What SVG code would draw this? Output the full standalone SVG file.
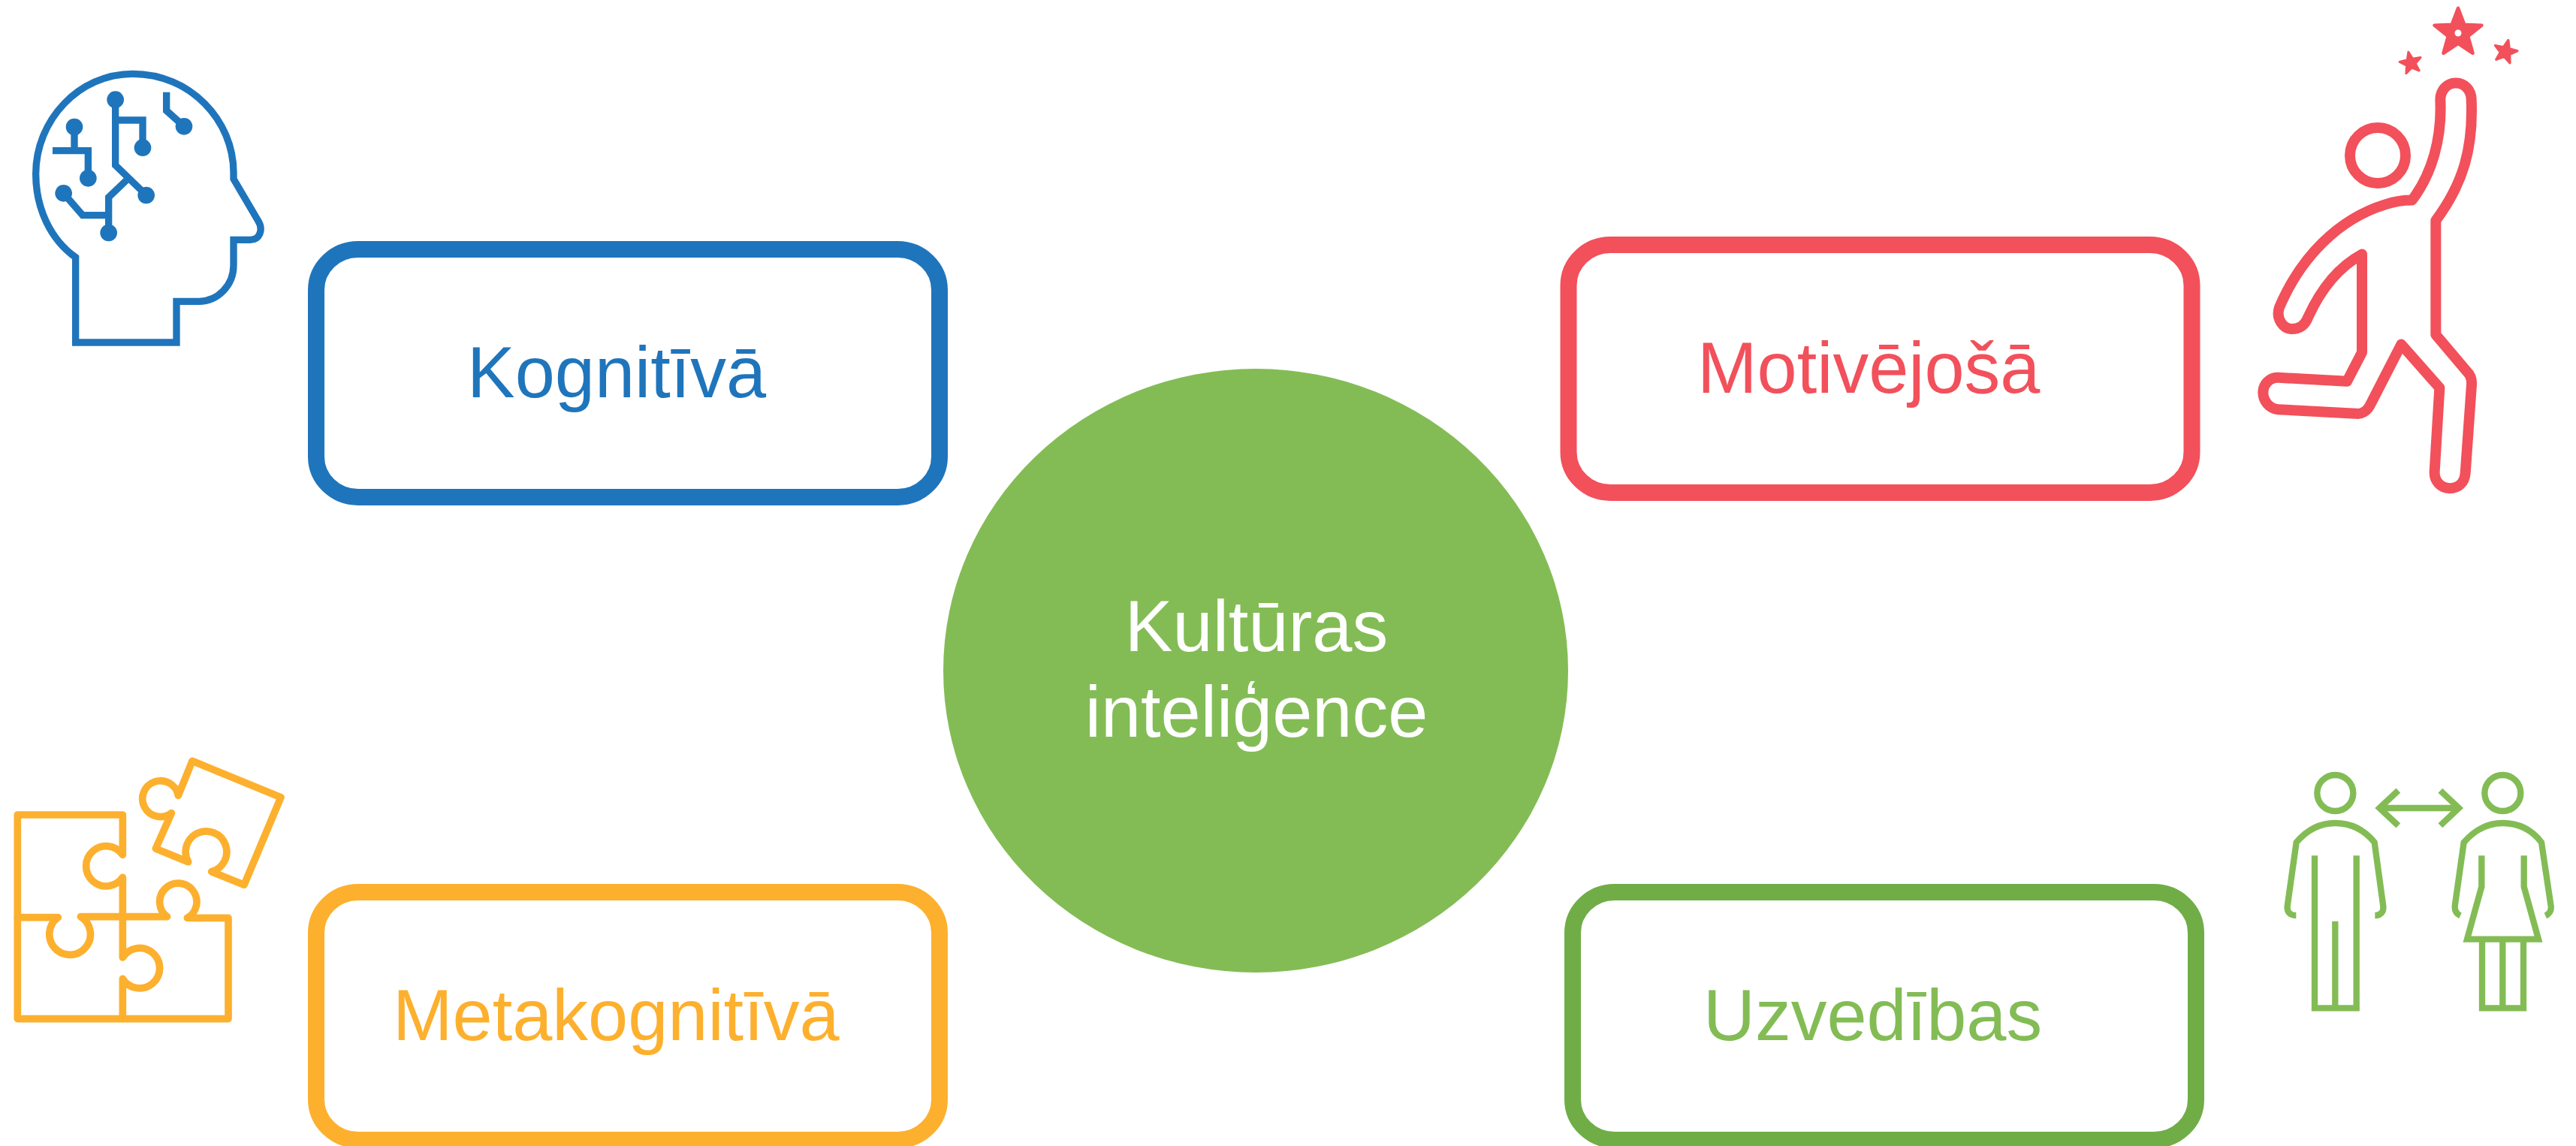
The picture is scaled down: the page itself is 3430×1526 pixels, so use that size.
<svg xmlns="http://www.w3.org/2000/svg" xmlns:xlink="http://www.w3.org/1999/xlink" width="3430" height="1526" viewBox="0 0 3430 1526">
<style>
.box{fill:#fff;stroke-width:22}
.lbl{font-family:"Liberation Sans",Arial,sans-serif;font-size:95.5px}
.ic{fill:none;stroke-miterlimit:10}
.dot{stroke:none}
</style>
<defs>
<polygon id="star" points="0,-100 25,-34 95,-31 40,13 59,81 0,42 -59,81 -40,13 -95,-31 -25,-34"/>
</defs>
<rect width="3430" height="1526" fill="#fff"/>
<g id="connectors"></g>
<g id="node-center">
<ellipse cx="1672" cy="893" rx="416" ry="402" fill="#83BC55"/>
<text class="lbl" x="1673" y="867" text-anchor="middle" fill="#fff">Kultūras</text>
<text class="lbl" x="1673" y="981" text-anchor="middle" fill="#fff">inteliģence</text>
</g>
<g id="node-kognitiva">
<rect class="box" x="421" y="332" width="830" height="330" rx="56" ry="54" stroke="#1F75BC"/>
<text class="lbl" x="622" y="529" fill="#1F75BC">Kognitīvā</text>
</g>
<g id="node-motivejosa">
<rect class="box" x="2088.5" y="326" width="830" height="330" rx="56" ry="54" stroke="#F2505B"/>
<text class="lbl" x="2260" y="523" fill="#F2505B">Motivējošā</text>
</g>
<g id="node-metakognitiva">
<rect class="box" x="421" y="1188" width="830" height="330" rx="56" ry="54" stroke="#FDB02E"/>
<text class="lbl" x="523" y="1385" fill="#FDB02E">Metakognitīvā</text>
</g>
<g id="node-uzvedibas">
<rect class="box" x="2094" y="1188" width="830" height="330" rx="56" ry="54" stroke="#70AD47"/>
<text class="lbl" x="2268" y="1385" fill="#83BC55">Uzvedības</text>
</g>
<g id="icon-head" transform="translate(0,60) scale(.33333)">
<g class="ic" stroke="#1F75BC" stroke-width="28">
<path d="M302 1188V848C200 775 143 650 143 515C143 300 315 115 530 115C760 115 933 300 933 510V535L1030 700C1055 740 1035 778 1000 778H933V880C933 960 870 1024 795 1024H705V1188Z"/>
<path d="M461 218V480L585 600M461 300H570V410"/>
<path d="M297 327V422M210 422H352V530"/>
<path d="M254 592L330 680H433M434 750V608L505 540"/>
<path d="M665 188V262L735 325"/>
</g>
<g class="dot" fill="#1F75BC">
<circle cx="461" cy="218" r="34"/><circle cx="584" cy="600" r="34"/><circle cx="570" cy="410" r="34"/>
<circle cx="297" cy="327" r="34"/><circle cx="352" cy="532" r="34"/><circle cx="254" cy="592" r="34"/>
<circle cx="434" cy="750" r="34"/><circle cx="735" cy="325" r="34"/>
</g>
</g>
<g id="icon-runner">
<path transform="translate(2980,0) scale(.33333,.42857)" class="ic" stroke="#F2505B" stroke-width="14" stroke-linejoin="round" vector-effect="non-scaling-stroke" d="M808 310C808 280 835 258 870 258C905 258 932 280 932 310C940 460 900 570 790 685V1040L915 1155Q935 1170 933 1195L908 1470C905 1500 880 1517 845 1517C810 1517 783 1495 785 1465L805 1205L652 1070L530 1255C515 1280 490 1288 470 1285L160 1272C125 1270 100 1245 100 1220C100 1195 125 1172 160 1173L435 1185L495 1095V790C400 830 330 900 280 985C265 1015 240 1022 215 1022C180 1022 150 990 165 955C250 800 400 680 590 635C630 625 670 622 695 622C775 540 815 430 808 310Z"/>
<circle cx="3166" cy="207" r="37" class="ic" stroke="#F2505B" stroke-width="14"/>
<g fill="#F2505B" stroke="#F2505B" stroke-linejoin="round">
<use xlink:href="#star" href="#star" transform="translate(3273,44) scale(.33)" stroke-width="14"/>
<use xlink:href="#star" href="#star" transform="translate(3210,84) rotate(-12) scale(.15)" stroke-width="20"/>
<use xlink:href="#star" href="#star" transform="translate(3336,69) rotate(14) scale(.16)" stroke-width="20"/>
</g>
<circle cx="3273" cy="44" r="4.5" fill="#fff"/>
</g>
<g id="icon-puzzle" transform="translate(0,990) scale(.33333)">
<g class="ic" stroke="#FDB02E" stroke-width="29" stroke-linecap="round" stroke-linejoin="round">
<path d="M70 695V285H490V445A80 80 0 1 0 490 535V855A80 80 0 1 1 490 940V1100"/>
<path d="M70 695H232A82 82 0 1 0 322 692H668A74 74 0 1 1 748 697H912V1100H70Z"/>
<path d="M712 208L768 70L1122 215L975 565L845 512A82 82 0 1 0 752 473L622 420L685 278A72 72 0 1 1 712 208Z"/>
</g>
</g>
<g id="icon-people" transform="translate(3020,1010) scale(.33333)">
<g class="ic" stroke="#83BC55" stroke-width="25">
<circle cx="268" cy="138" r="72"/><circle cx="937" cy="138" r="72"/>
<path d="M450 198H760M520 128L445 198L520 268M688 128L762 198L688 268"/>
<path d="M112 627C85 627 75 610 77 590L113 335C160 280 210 258 268 258C330 258 380 280 425 335L460 590C462 610 452 627 427 627"/>
<path d="M186 388V997H353V388M268 650V997"/>
<path d="M768 628C755 622 745 610 746 590L782 335C830 280 880 258 937 258C1000 258 1050 280 1092 335L1130 590C1132 610 1122 622 1108 628"/>
<path d="M853 388V512L795 722H1080L1022 512V388"/>
<path d="M855 722V997H1020V722M937 722V997"/>
</g>
</g>
</svg>
